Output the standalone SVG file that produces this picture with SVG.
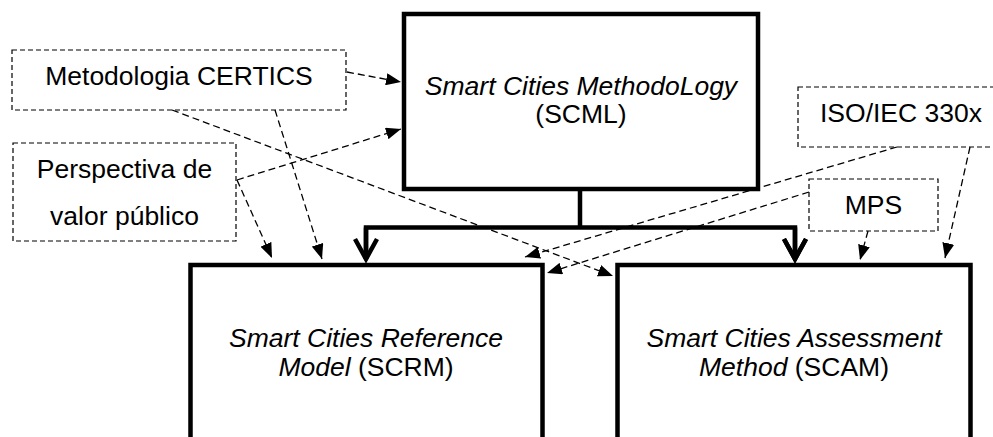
<svg xmlns="http://www.w3.org/2000/svg" width="993" height="437" viewBox="0 0 993 437">
  <defs>
    <style>
      .t{font-family:"Liberation Sans",Arial,sans-serif;font-size:26.5px;fill:#000;text-anchor:middle}
      .i{font-style:italic}
      .box{fill:none;stroke:#000;stroke-width:4.5}
      .src{fill:#fff;stroke:#000;stroke-width:1.2;stroke-dasharray:5 3}
      .dep{fill:none;stroke:#000;stroke-width:1.3;stroke-dasharray:7 4;marker-end:url(#tri)}
      .flow{fill:none;stroke:#000;stroke-width:4.5}
      .down{marker-end:url(#vee)}
    </style>
    <!-- filled head for the dashed "input" connectors -->
    <marker id="tri" markerUnits="userSpaceOnUse" markerWidth="15" markerHeight="12" refX="15" refY="6" viewBox="0 0 15 12" orient="auto">
      <path d="M0,0 L15,6 L0,12 z" fill="#000"/>
    </marker>
    <!-- open chevron for the thick decomposition connectors -->
    <marker id="vee" markerUnits="userSpaceOnUse" markerWidth="30" markerHeight="30" refX="0" refY="0" viewBox="-25 -15 30 30" orient="auto">
      <path d="M-20,-11 L0,0 L-20,11" fill="none" stroke="#000" stroke-width="4.5"/>
    </marker>
  </defs>

  <rect width="993" height="437" fill="#fff"/>

  <!-- input sources (dashed boxes) -->
  <g id="certics">
    <rect class="src" x="12" y="50" width="334" height="60"/>
    <text class="t" x="179" y="85">Metodologia CERTICS</text>
  </g>
  <g id="valor-publico">
    <rect class="src" x="13" y="143" width="223" height="98"/>
    <text class="t" x="124.5" y="178">Perspectiva de</text>
    <text class="t" x="124.5" y="225">valor público</text>
  </g>
  <g id="iso-iec">
    <rect class="src" x="798" y="87" width="210" height="60"/>
    <text class="t" x="901" y="122">ISO/IEC 330x</text>
  </g>
  <g id="mps">
    <rect class="src" x="809" y="179" width="129" height="52"/>
    <text class="t" x="873.5" y="214">MPS</text>
  </g>

  <!-- methodology components -->
  <g id="scml">
    <rect class="box" x="404" y="14" width="354" height="175"/>
    <text class="t" x="581" y="95"><tspan class="i">Smart Cities MethodoLogy</tspan></text>
    <text class="t" x="581" y="123">(SCML)</text>
  </g>
  <g id="scrm">
    <rect class="box" x="190.5" y="265" width="352" height="220"/>
    <text class="t" x="366" y="347"><tspan class="i">Smart Cities Reference</tspan></text>
    <text class="t" x="366" y="376"><tspan class="i">Model</tspan> (SCRM)</text>
  </g>
  <g id="scam">
    <rect class="box" x="617.5" y="265" width="353" height="220"/>
    <text class="t" x="794" y="347"><tspan class="i">Smart Cities Assessment</tspan></text>
    <text class="t" x="794" y="376"><tspan class="i">Method</tspan> (SCAM)</text>
  </g>

  <g id="connectors">
    <!-- SCML splits into SCRM and SCAM -->
    <path class="flow" d="M580,189 V227.5"/>
    <path class="flow down" d="M366,259 V227.5 H795 V259"/>
    <path class="flow down" d="M795,227.5 V259"/>
    <path class="flow down" d="M366,227.5 V259"/>

    <!-- inputs feeding each component -->
    <line class="dep" x1="347" y1="72" x2="401" y2="82"/>
    <line class="dep" x1="237" y1="180" x2="401" y2="129"/>
    <line class="dep" x1="237" y1="180" x2="272" y2="258"/>
    <line class="dep" x1="275" y1="110" x2="322" y2="259"/>
    <line class="dep" x1="172" y1="110" x2="613" y2="276"/>
    <line class="dep" x1="897" y1="147" x2="525" y2="257"/>
    <line class="dep" x1="809" y1="192" x2="547" y2="273"/>
    <line class="dep" x1="868" y1="231" x2="860" y2="260"/>
    <line class="dep" x1="970" y1="147" x2="945" y2="258"/>
  </g>
</svg>
